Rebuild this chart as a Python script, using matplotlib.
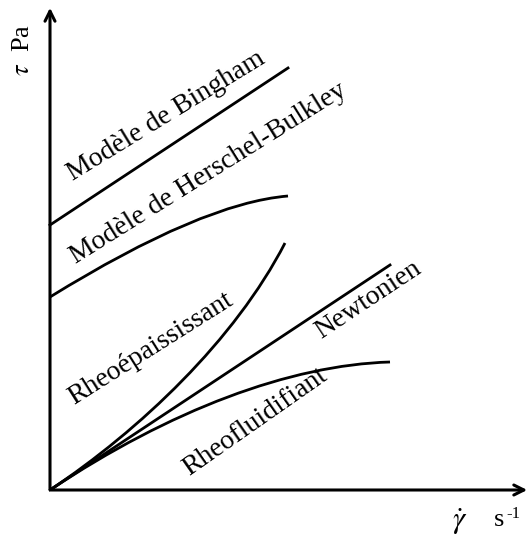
import matplotlib as mpl
mpl.use('Agg')
import matplotlib.pyplot as plt
from matplotlib.path import Path
from matplotlib.patches import PathPatch
import numpy as np

plt.rcParams['font.family'] = ['Liberation Serif', 'DejaVu Serif']
plt.rcParams['mathtext.fontset'] = 'stix'

# curves (x: shear rate, y: stress), arbitrary units
bingham_x = [0, 238]
bingham_y = [265, 422]
newton_x = [0, 340]
newton_y = [0, 225]
# bezier control points: start, controls, end
herschel_pts = [(0, 193), (152, 287), (238, 294)]
thick_pts = [(0, 0), (90, 60), (185, 150), (235, 247)]
thin_pts = [(0, 0), (120, 80), (240, 125), (340, 128)]

labels = ['Modèle de Bingham', 'Modèle de Herschel-Bulkley', 'Rheoépaississant',
          'Newtonien', 'Rheofluidifiant']
label_xy = [(116, 374), (158, 317), (101, 141), (318, 190), (205, 68)]
label_rot = [31.5, 32, 32.3, 33.6, 35]

fig = plt.figure(figsize=(5.31, 5.37), dpi=100)
ax = fig.add_axes([0, 0, 1, 1])
ax.set_xlim(-50, 481)
ax.set_ylim(-47, 490)
ax.axis('off')

# axes arrows
ax.annotate('', xy=(480, 0), xytext=(-1.5, 0),
            arrowprops=dict(arrowstyle='->', lw=2.2, color='black', mutation_scale=18))
ax.annotate('', xy=(0, 485), xytext=(0, -1.5),
            arrowprops=dict(arrowstyle='->', lw=2.2, color='black', mutation_scale=18))

ax.plot(bingham_x, bingham_y, color='black', lw=2)
ax.plot(newton_x, newton_y, color='black', lw=2)
p = Path(herschel_pts, [Path.MOVETO, Path.CURVE3, Path.CURVE3])
ax.add_patch(PathPatch(p, facecolor='none', edgecolor='black', lw=2))
for pts in [thick_pts, thin_pts]:
    p = Path(pts, [Path.MOVETO, Path.CURVE4, Path.CURVE4, Path.CURVE4])
    ax.add_patch(PathPatch(p, facecolor='none', edgecolor='black', lw=2))

for lab, (x, y), r in zip(labels, label_xy, label_rot):
    ax.text(x, y, lab, rotation=r, fontsize=20, ha='center', va='center',
            rotation_mode='anchor')

ax.text(-27, 440, r'$\tau$  Pa', rotation=90, fontsize=19, ha='center', va='center')
ax.text(410, -32, r'$\dot{\gamma}$', fontsize=22, ha='center', va='center')
ax.text(449, -30, 's', fontsize=19, ha='center', va='center')
ax.text(463, -24, '-1', fontsize=12, ha='center', va='center')

fig.savefig('out.png', dpi=100)
